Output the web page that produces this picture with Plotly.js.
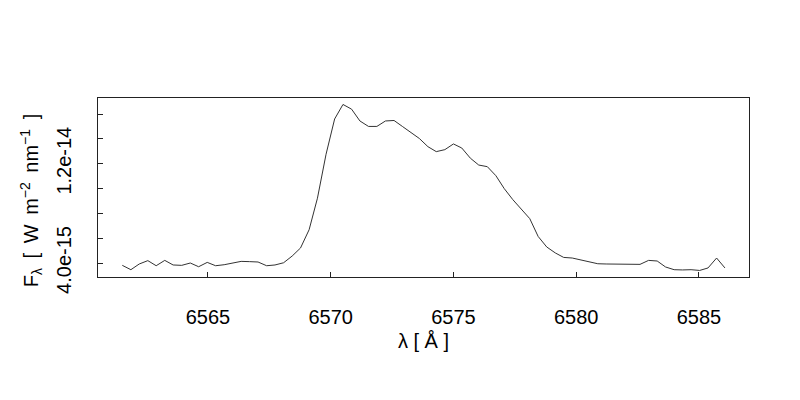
<!DOCTYPE html>
<html>
<head>
<meta charset="utf-8">
<script src="https://cdn.plot.ly/plotly-3.0.1.min.js"></script>
<style>html,body{margin:0;padding:0;background:#fff;}#chart{width:800px;height:400px;}</style>
</head>
<body>
<div id="chart"></div>
<script>
// Wavelength (Angstrom)
var wavelength = [
  6561.51, 6561.86, 6562.20, 6562.55, 6562.89, 6563.24, 6563.58, 6563.93, 6564.28, 6564.62,
  6564.97, 6565.31, 6565.66, 6566.01, 6566.35, 6566.70, 6567.04, 6567.39, 6567.73, 6568.08,
  6568.43, 6568.77, 6569.12, 6569.46, 6569.81, 6570.16, 6570.50, 6570.85, 6571.19, 6571.54,
  6571.88, 6572.23, 6572.58, 6572.92, 6573.27, 6573.61, 6573.96, 6574.30, 6574.65, 6575.00,
  6575.34, 6575.69, 6576.03, 6576.38, 6576.73, 6577.07, 6577.42, 6577.76, 6578.11, 6578.45,
  6578.80, 6579.15, 6579.49, 6579.84, 6580.18, 6580.53, 6580.88, 6581.22, 6581.57, 6581.91,
  6582.26, 6582.60, 6582.95, 6583.30, 6583.64, 6583.99, 6584.33, 6584.68, 6585.03, 6585.37,
  6585.72, 6586.06
];
// Flux density (W m^-2 nm^-1)
var flux = [
  3.81e-15, 3.46e-15, 3.92e-15, 4.19e-15, 3.78e-15, 4.21e-15, 3.84e-15, 3.81e-15, 4.00e-15, 3.70e-15,
  4.05e-15, 3.78e-15, 3.86e-15, 4.02e-15, 4.13e-15, 4.11e-15, 4.08e-15, 3.78e-15, 3.84e-15, 4.02e-15,
  4.56e-15, 5.21e-15, 6.68e-15, 9.22e-15, 1.276e-14, 1.560e-14, 1.677e-14, 1.639e-14, 1.544e-14, 1.500e-14,
  1.500e-14, 1.544e-14, 1.548e-14, 1.500e-14, 1.452e-14, 1.403e-14, 1.337e-14, 1.297e-14, 1.313e-14, 1.359e-14,
  1.326e-14, 1.244e-14, 1.189e-14, 1.176e-14, 1.103e-14, 9.99e-15, 9.10e-15, 8.37e-15, 7.57e-15, 6.14e-15,
  5.29e-15, 4.81e-15, 4.45e-15, 4.40e-15, 4.24e-15, 4.11e-15, 3.94e-15, 3.92e-15, 3.92e-15, 3.92e-15,
  3.94e-15, 3.89e-15, 4.21e-15, 4.16e-15, 3.68e-15, 3.46e-15, 3.44e-15, 3.46e-15, 3.40e-15, 3.60e-15,
  4.40e-15, 3.60e-15
];
var xTickVals = [6565, 6570, 6575, 6580, 6585];
var xTickText = ["6565", "6570", "6575", "6580", "6585"];
var yTickVals = [4e-15, 1.2e-14];
var yTickText = ["4.0e-15", "1.2e-14"];
var yMinorTickVals = [6e-15, 8e-15, 1e-14, 1.4e-14, 1.6e-14];

var FONT = "Liberation Sans, Arial, Helvetica, sans-serif";

var trace = {
  x: wavelength,
  y: flux,
  type: "scatter",
  mode: "lines",
  line: {color: "#333333", width: 1},
  hoverinfo: "x+y"
};

var layout = {
  width: 800,
  height: 400,
  margin: {l: 98, r: 51, t: 98, b: 123, pad: 0},
  paper_bgcolor: "#ffffff",
  plot_bgcolor: "#ffffff",
  showlegend: false,
  font: {family: FONT, color: "#000000", size: 20},
  xaxis: {
    range: [6560.52, 6587.04],
    showline: true, mirror: true, linecolor: "#222222", linewidth: 1,
    ticks: "inside", ticklen: 5, tickwidth: 1, tickcolor: "#222222",
    tickmode: "array", tickvals: xTickVals, ticktext: xTickText,
    tickfont: {family: FONT, size: 20, color: "#000000"},
    ticklabelstandoff: 22,
    showgrid: false, zeroline: false, automargin: false,
    title: {text: "λ [ Å ]", font: {family: FONT, size: 20, color: "#000000"}, standoff: 6}
  },
  yaxis: {
    range: [2.872e-15, 1.729e-14],
    showline: true, mirror: true, linecolor: "#222222", linewidth: 1,
    ticks: "inside", ticklen: 5, tickwidth: 1, tickcolor: "#222222",
    tickmode: "array", tickvals: yTickVals, ticktext: yTickText,
    minor: {tickmode: "array", tickvals: yMinorTickVals, ticks: "inside", ticklen: 5, tickwidth: 1, tickcolor: "#222222", showgrid: false},
    tickangle: -90,
    tickfont: {family: FONT, size: 20, color: "#000000"},
    ticklabelstandoff: 18,
    showgrid: false, zeroline: false, automargin: false
  },
  annotations: [{
    text: "F<sub>λ</sub>\u2009 [\u2009 W\u2009 m<sup>−2</sup>\u2009 nm<sup>−1</sup>\u2009 ]",
    textangle: -90,
    xref: "paper", yref: "paper",
    x: 0, y: 0.4235,
    xanchor: "center", yanchor: "middle",
    xshift: -67,
    showarrow: false,
    font: {family: FONT, size: 20, color: "#000000"}
  }]
};

Plotly.newPlot("chart", [trace], layout, {staticPlot: true, displayModeBar: false});
</script>
</body>
</html>
